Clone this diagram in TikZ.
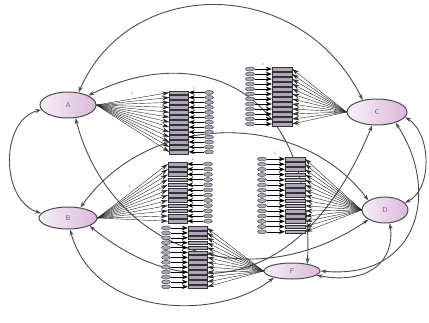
\documentclass[tikz,border=0pt]{standalone}
\usepackage{tikz}
\usetikzlibrary{arrows.meta, shapes.geometric}
\definecolor{indfill}{RGB}{176,166,186}
\tikzset{
>={Stealth[length=6pt,width=4pt]},
latent/.style={%
    ellipse,
    draw=black!70,
    line width=1pt,
    inner sep=0pt,
    left color=violet!6, right color=violet!28,
    text=black!60,
    font=\sffamily\fontsize{7}{8}\selectfont
},
ind/.style={%
    rectangle,
    draw=black!80,
    line width=0.4pt,
    fill=indfill,
    minimum width=19pt, minimum height=3.6pt, inner sep=0pt
},
err/.style={%
    ellipse, draw=black!80, line width=0.4pt, fill=indfill,
    minimum width=9pt, minimum height=4pt, inner sep=0pt
},
load/.style={->, line width=0.4pt, black!85, >={Stealth[length=7pt,width=4.2pt]}},
eload/.style={->, line width=0.6pt, black, >={Stealth[length=6pt,width=4.6pt]}},
cov/.style={<->, line width=0.9pt, black!70},
one/.style={font=\sffamily\fontsize{3.5}{4}\selectfont, inner sep=0pt, text=black!70},
}

\begin{document}
\begin{tikzpicture}[x=1pt, y=-1pt]
	\useasboundingbox (0,0) rectangle (429,322);
	% latent variables
	\node[latent, minimum width=56pt, minimum height=26pt] (A) at (68,105) {A};
	\node[latent, minimum width=58pt, minimum height=22pt] (B) at (68,218) {B};
	\node[latent, minimum width=60pt, minimum height=26pt] (C) at (377,112) {C};
	\node[latent, minimum width=46pt, minimum height=26pt] (D) at (385,210) {D};
	\node[latent, minimum width=56pt, minimum height=16pt] (F) at (292,271) {F};

	% structural arcs
	\draw[cov] (A.50) .. controls (130,-25) and (300,-25) .. (C.140);
	\draw[cov] (A.25) .. controls (200,40) and (315,90) .. (F.25);
	\draw[cov] (B.40) .. controls (150,110) and (300,110) .. (D.150);
	\draw[cov] (A.-60) .. controls (110,250) and (250,300) .. (D.-150);
	\draw[cov] (B.-20) .. controls (180,300) and (300,300) .. (C.-110);
	\draw[cov] (B.-80) .. controls (95,320) and (220,320) .. (F.-160);
	\draw[cov] (A.190) .. controls (0,120) and (0,200) .. (B.170);
	\draw[cov] (C.-10) .. controls (432,135) and (432,190) .. (D.20);
	\draw[cov] (C.-30) .. controls (440,190) and (420,280) .. (F.0);
	\draw[cov] (D.-70) .. controls (395,260) and (370,285) .. (F.-10);

	% indicator blocks
	\foreach \i in {1,...,13} {
		\node[ind] (A\i) at (179,{92.5+(\i-1)*4.95}) {};
		\node[err] (eA\i) at (209,{92.5+(\i-1)*4.95}) {};
		\draw[load] (A.east) -- (A\i.west);
		\draw[eload] (eA\i) -- (A\i.east);
	}
	\foreach \i in {1,...,12} {
		\node[ind] (B\i) at (177.5,{164+(\i-1)*5.2}) {};
		\node[err] (eB\i) at (208,{164+(\i-1)*5.2}) {};
		\draw[load] (B.east) -- (B\i.west);
		\draw[eload] (eB\i) -- (B\i.east);
	}
	\foreach \i in {1,...,12} {
		\node[ind, minimum width=20pt] (C\i) at (282,{69+(\i-1)*5}) {};
		\node[err] (eC\i) at (250,{69+(\i-1)*5}) {};
		\draw[load] (C.west) -- (C\i.east);
		\draw[eload] (eC\i) -- (C\i.west);
	}
	\foreach \i in {1,...,15} {
		\node[ind, minimum width=20pt] (D\i) at (295,{159+(\i-1)*5.2}) {};
		\node[err] (eD\i) at (262,{159+(\i-1)*5.2}) {};
		\draw[load] (D.west) -- (D\i.east);
		\draw[eload] (eD\i) -- (D\i.west);
	}
	\foreach \i in {1,...,13} {
		\node[ind] (F\i) at (197.5,{228+(\i-1)*4.9}) {};
		\node[err] (eF\i) at (166,{228+(\i-1)*4.9}) {};
		\draw[load] (F.west) -- (F\i.east);
		\draw[eload] (eF\i) -- (F\i.west);
	}

	% fixed weights
	\node[one] (oneA) at (132,93) {1};
	\node[one] (oneeA) at (194,88) {1};
	\node[one] (oneB) at (130,186) {1};
	\node[one] (oneeB) at (193,159) {1};
	\node[one] (oneeC) at (263,64) {1};
	\node[one] (oneeD) at (275,153) {1};
	\node[one] (oneF) at (233,266) {1};
\end{tikzpicture}
\end{document}
